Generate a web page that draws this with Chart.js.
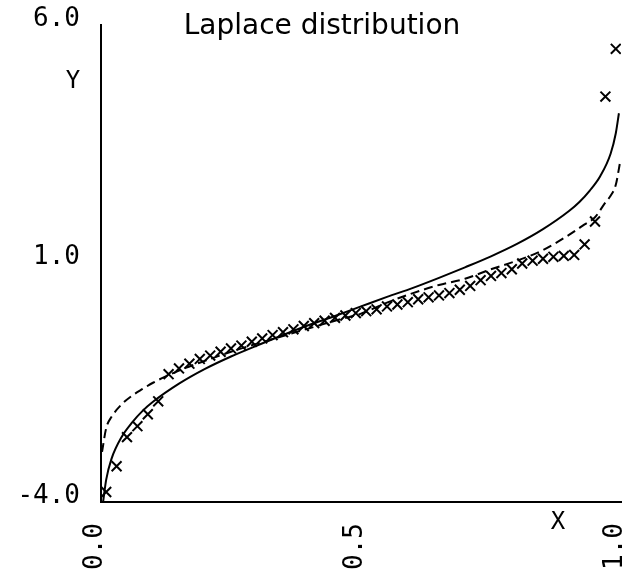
<!DOCTYPE html>
<html>
<head>
<meta charset="utf-8">
<script src="https://cdn.jsdelivr.net/npm/chart.js@4/dist/chart.umd.min.js"></script>
<style>
  html, body { margin: 0; padding: 0; background: #fff; }
  #wrap { width: 638px; height: 582px; }
</style>
</head>
<body>
<div id="wrap"><canvas id="laplaceChart" width="638" height="582"></canvas></div>
<script>
// Ordered sample values (crosses), plotted at positions (i - 0.5) / 50
const sampleX = [0.01, 0.03, 0.05, 0.07, 0.09, 0.11, 0.13, 0.15, 0.17, 0.19,
                 0.21, 0.23, 0.25, 0.27, 0.29, 0.31, 0.33, 0.35, 0.37, 0.39,
                 0.41, 0.43, 0.45, 0.47, 0.49, 0.51, 0.53, 0.55, 0.57, 0.59,
                 0.61, 0.63, 0.65, 0.67, 0.69, 0.71, 0.73, 0.75, 0.77, 0.79,
                 0.81, 0.83, 0.85, 0.87, 0.89, 0.91, 0.93, 0.95, 0.97, 0.99];
const sampleY = [-3.79, -3.25, -2.64, -2.41, -2.16, -1.89, -1.32, -1.20, -1.10, -1.00,
                 -0.93, -0.85, -0.78, -0.72, -0.64, -0.57, -0.50, -0.44, -0.38, -0.31,
                 -0.25, -0.20, -0.14, -0.09, -0.04, 0.00, 0.04, 0.10, 0.14, 0.19,
                 0.25, 0.29, 0.33, 0.38, 0.45, 0.53, 0.65, 0.74, 0.80, 0.88,
                 1.00, 1.06, 1.10, 1.14, 1.16, 1.18, 1.40, 1.88, 4.50, 5.50];

// Solid curve
const solidX = [0.004, 0.01, 0.02, 0.04, 0.06, 0.08, 0.10, 0.15, 0.20, 0.25, 0.30, 0.35, 0.40, 0.45,
                0.50, 0.55, 0.60, 0.65, 0.70, 0.75, 0.80, 0.85, 0.90, 0.92, 0.94, 0.96, 0.98, 0.99, 0.996];
const solidY = [-4.00, -3.53, -3.10, -2.63, -2.33, -2.09, -1.90, -1.52, -1.21, -0.95, -0.72, -0.50, -0.29, -0.10,
                0.10, 0.30, 0.49, 0.70, 0.92, 1.15, 1.41, 1.72, 2.10, 2.29, 2.53, 2.83, 3.30, 3.73, 4.15];

// Dashed curve
const dashX = [0.002, 0.01, 0.02, 0.04, 0.06, 0.08, 0.10, 0.13, 0.16, 0.20, 0.25, 0.30, 0.35, 0.40, 0.45,
               0.50, 0.55, 0.60, 0.65, 0.70, 0.75, 0.80, 0.85, 0.90, 0.93, 0.95, 0.97, 0.98, 0.99, 0.998];
const dashY = [-2.95, -2.45, -2.22, -1.95, -1.77, -1.63, -1.50, -1.34, -1.20, -1.04, -0.85, -0.68, -0.52, -0.36, -0.20,
               -0.05, 0.18, 0.38, 0.55, 0.68, 0.88, 1.06, 1.28, 1.60, 1.82, 1.97, 2.28, 2.42, 2.65, 3.11];

const yTicks = [-4, 1, 6];
const xTicks = [0, 0.5, 1];

function toPoints(xs, ys) {
    return xs.map((x, i) => ({ x: x, y: ys[i] }));
}

// Title and axis letters drawn as plain text on the canvas
const annotations = {
    id: 'annotations',
    afterDraw(chart) {
        const ctx = chart.ctx;
        ctx.save();
        ctx.fillStyle = '#000';
        ctx.textAlign = 'center';
        ctx.textBaseline = 'alphabetic';
        ctx.font = '28px "DejaVu Sans"';
        ctx.fillText('Laplace distribution', 322, 34);
        ctx.font = '24px "DejaVu Sans Mono"';
        ctx.textBaseline = 'middle';
        ctx.fillText('Y', 73, 82);
        ctx.fillText('X', 558, 523);
        ctx.restore();
    }
};

const ctx = document.getElementById('laplaceChart').getContext('2d');
new Chart(ctx, {
    type: 'scatter',
    data: {
        datasets: [
            {
                label: 'solid',
                data: toPoints(solidX, solidY),
                showLine: true,
                borderColor: '#000',
                borderWidth: 2,
                pointRadius: 0,
                cubicInterpolationMode: 'monotone'
            },
            {
                label: 'dashed',
                data: toPoints(dashX, dashY),
                showLine: true,
                borderColor: '#000',
                borderWidth: 2,
                borderDash: [9, 5],
                pointRadius: 0,
                cubicInterpolationMode: 'monotone'
            },
            {
                label: 'sample',
                data: toPoints(sampleX, sampleY),
                showLine: false,
                pointStyle: 'crossRot',
                pointRadius: 7,
                borderColor: '#000',
                borderWidth: 2
            }
        ]
    },
    options: {
        responsive: false,
        animation: false,
        layout: { padding: { top: 25, right: 17, left: 0, bottom: 0 } },
        plugins: { legend: { display: false }, tooltip: { enabled: false } },
        scales: {
            x: {
                type: 'linear',
                min: 0,
                max: 1,
                afterBuildTicks: scale => { scale.ticks = xTicks.map(v => ({ value: v })); },
                afterFit: scale => {
                    scale.height = 80;
                    scale.paddingLeft = 0;
                    scale.paddingRight = 0;
                },
                grid: { display: false, tickLength: 3, color: '#000' },
                border: { display: true, color: '#000', width: 2 },
                ticks: {
                    color: '#000',
                    font: { family: 'DejaVu Sans Mono', size: 26 },
                    minRotation: 90,
                    maxRotation: 90,
                    padding: 18,
                    labelOffset: -6,
                    callback: v => Number(v).toFixed(1)
                }
            },
            y: {
                type: 'linear',
                min: -4,
                max: 6,
                afterBuildTicks: scale => { scale.ticks = yTicks.map(v => ({ value: v })); },
                afterFit: scale => {
                    scale.width = 101;
                    scale.paddingTop = 0;
                    scale.paddingBottom = 0;
                },
                grid: { display: false, tickLength: 3, color: '#000' },
                border: { display: true, color: '#000', width: 2 },
                ticks: {
                    color: '#000',
                    font: { family: 'DejaVu Sans Mono', size: 26 },
                    padding: 18,
                    labelOffset: -6,
                    callback: v => Number(v).toFixed(1)
                }
            }
        }
    },
    plugins: [annotations]
});
</script>
</body>
</html>
